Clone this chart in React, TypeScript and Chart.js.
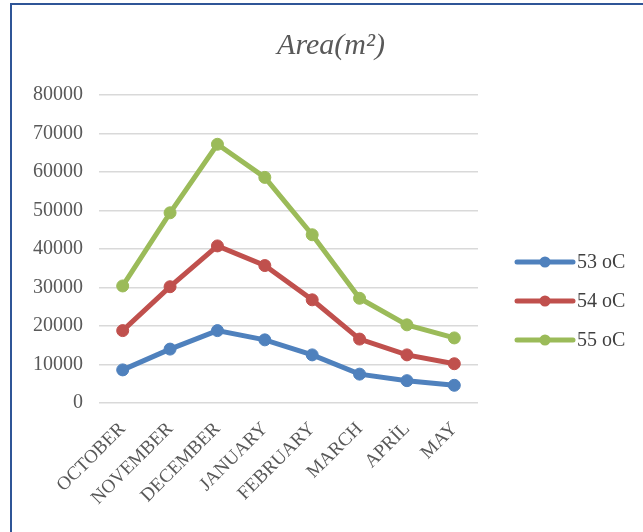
import React, { useEffect, useRef } from "react";
import { Chart, registerables } from "chart.js";

Chart.register(...registerables);

const months = ["OCTOBER", "NOVEMBER", "DECEMBER", "JANUARY", "FEBRUARY", "MARCH", "APRİL", "MAY"];
const s53 = [8600, 14000, 18800, 16400, 12500, 7500, 5800, 4600];
const s54 = [18800, 30200, 40800, 35700, 26800, 16600, 12500, 10200];
const s55 = [30400, 49400, 67200, 58600, 43700, 27200, 20300, 16900];
const seriesNames = ["53 oC", "54 oC", "55 oC"];
const seriesColors = ["#4F81BD", "#C0504D", "#9BBB59"];
const titleText = "Area(m²)";

const FONT = "'Liberation Serif', 'Times New Roman', serif";

const decorPlugin = {
  id: "decor",
  afterDraw(chart: any) {
    const ctx = chart.ctx;
    ctx.save();
    // title
    ctx.fillStyle = "#595959";
    ctx.font = `italic 30px ${FONT}`;
    ctx.textAlign = "center";
    ctx.textBaseline = "middle";
    ctx.fillText(titleText, chart.width / 2, 41);
    // legend
    const ds = chart.data.datasets;
    const x0 = 506;
    const x1 = 562;
    const cy = 296;
    const gap = 39;
    ctx.font = `20px ${FONT}`;
    ctx.textAlign = "left";
    ds.forEach((d: any, i: number) => {
      const y = cy + (i - (ds.length - 1) / 2) * gap;
      ctx.strokeStyle = d.borderColor;
      ctx.lineWidth = 5;
      ctx.lineCap = "round";
      ctx.beginPath();
      ctx.moveTo(x0, y);
      ctx.lineTo(x1, y);
      ctx.stroke();
      ctx.fillStyle = d.borderColor;
      ctx.beginPath();
      ctx.arc((x0 + x1) / 2, y, 5.5, 0, Math.PI * 2);
      ctx.fill();
      ctx.fillStyle = "#404040";
      ctx.fillText(d.label, x1 + 4, y + 1);
    });
    ctx.restore();
  },
};

export default function App() {
  const ref = useRef<HTMLCanvasElement | null>(null);
  useEffect(() => {
    if (!ref.current) return;
    const data = [s53, s54, s55];
    const chart = new Chart(ref.current, {
      type: "line",
      data: {
        labels: months,
        datasets: data.map((vals, i) => ({
          label: seriesNames[i],
          data: vals,
          borderColor: seriesColors[i],
          backgroundColor: seriesColors[i],
          borderWidth: 5,
          pointRadius: 6,
          pointBorderWidth: 1,
          pointBackgroundColor: seriesColors[i],
          pointBorderColor: seriesColors[i],
          tension: 0,
        })),
      },
      options: {
        animation: false,
        responsive: false,
        maintainAspectRatio: false,
        layout: { padding: { left: 0, right: 173, top: 90, bottom: 0 } },
        plugins: {
          legend: { display: false },
          title: { display: false },
          tooltip: { enabled: false },
        },
        scales: {
          x: {
            offset: true,
            grid: { display: false },
            border: { display: false },
            ticks: {
              minRotation: 45,
              maxRotation: 45,
              autoSkip: false,
              padding: 7,
              color: "#595959",
              font: { family: FONT, size: 19 },
            },
            afterFit: (scale: any) => {
              scale.height = 142;
            },
          },
          y: {
            min: 0,
            max: 80000,
            grid: { color: "#D9D9D9", lineWidth: 1.5, drawTicks: false },
            border: { display: false },
            ticks: {
              stepSize: 10000,
              padding: 16,
              color: "#595959",
              font: { family: FONT, size: 20 },
              callback: (v: any) => String(v),
            },
            afterFit: (scale: any) => {
              scale.width = 88;
            },
          },
        },
      },
      plugins: [decorPlugin],
    });
    return () => chart.destroy();
  }, []);

  return (
    <div
      style={{
        position: "fixed",
        left: 0,
        top: 0,
        width: 643,
        height: 532,
        overflow: "hidden",
        background: "#fff",
      }}
    >
      <div
        style={{
          position: "absolute",
          left: 10,
          top: 3,
          width: 660,
          height: 560,
          borderLeft: "2.5px solid #2F5597",
          borderTop: "2.5px solid #2F5597",
          boxSizing: "border-box",
        }}
      />
      <canvas
        ref={ref}
        width={640}
        height={540}
        style={{ position: "absolute", left: 11, top: 5, width: 640, height: 540 }}
      />
    </div>
  );
}
